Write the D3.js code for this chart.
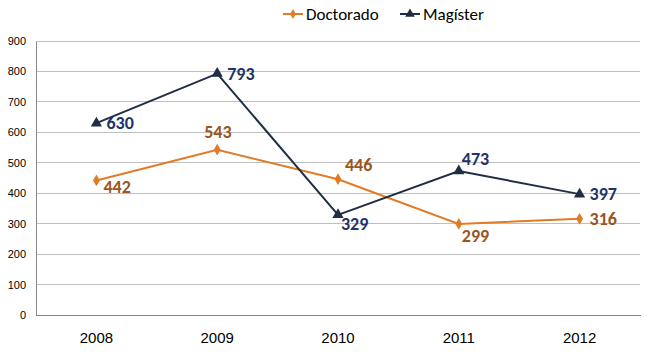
<!DOCTYPE html>
<html><head><meta charset="utf-8">
<script src="https://cdn.jsdelivr.net/npm/d3@7"></script>
<style>body{margin:0;background:#fff;}svg{display:block;font-family:Carlito,"Liberation Sans",Arial,sans-serif;}</style>
</head><body><svg id="c" width="650" height="354"></svg>
<script>
const years = ["2008","2009","2010","2011","2012"];
const doctorado = [442, 543, 446, 299, 316];
const magister = [630, 793, 329, 473, 397];
const yTicks = [0,100,200,300,400,500,600,700,800,900];
// label placement: [dx, dy] relative to point
const docLabelPos = [[7,13],[-13,-12],[7,-8],[3,18],[10,6]];
const magLabelPos = [[10,6],[10,6],[3,15],[3,-6],[10,6]];

const svg = d3.select("#c");
const m = {l:36, r:10, t:41, b:39};
const W = 650, H = 354;
const x = d3.scaleBand().domain(years).range([m.l, W - m.r]);
const y = d3.scaleLinear().domain([0,900]).range([H - m.b, m.t]);
const cx = d => x(d) + x.bandwidth()/2;

// gridlines
svg.append("g").selectAll("line").data(yTicks.slice(1)).join("line")
  .attr("x1", m.l).attr("x2", W - m.r)
  .attr("y1", d => y(d)).attr("y2", d => y(d))
  .attr("stroke", "#bfbfbf").attr("stroke-width", 1).attr("shape-rendering","crispEdges");

// y axis
const ya = svg.append("g").attr("transform", `translate(${m.l},0)`)
  .call(d3.axisLeft(y).tickValues(yTicks).tickSize(0).tickPadding(10));
ya.select(".domain").attr("stroke","#868686").attr("shape-rendering","crispEdges");
ya.selectAll("text").attr("font-size", 11).attr("fill","#000").attr("font-family","'Liberation Sans',Arial,sans-serif");

// x axis
const xa = svg.append("g").attr("transform", `translate(0,${H - m.b})`)
  .call(d3.axisBottom(x).tickSize(0).tickPadding(17));
xa.select(".domain").attr("stroke","#868686").attr("shape-rendering","crispEdges");
xa.selectAll("text").attr("font-size", 15).attr("fill","#000");

const docColor = "#E07B27", magColor = "#1F2D45";
const docLabel = "#9A5520", magLabel = "#1F3468";

function series(vals, color, marker, labelColor, pos) {
  const line = d3.line().x((d,i) => cx(years[i])).y(d => y(d));
  svg.append("path").datum(vals).attr("d", line).attr("fill","none")
    .attr("stroke", color).attr("stroke-width", 2);
  svg.append("g").selectAll("path").data(vals).join("path")
    .attr("d", d3.symbol().type(marker).size(marker === d3.symbolDiamond ? 40 : 55))
    .attr("transform", (d,i) => `translate(${cx(years[i])},${y(d)})`)
    .attr("fill", color);
  svg.append("g").selectAll("text").data(vals).join("text")
    .attr("x", (d,i) => cx(years[i]) + pos[i][0])
    .attr("y", (d,i) => y(d) + pos[i][1])
    .attr("font-size", 18).attr("font-weight","bold").attr("fill", labelColor)
    .text(d => d);
}
series(doctorado, docColor, d3.symbolDiamond, docLabel, docLabelPos);
series(magister, magColor, d3.symbolTriangle, magLabel, magLabelPos);

// legend
const legend = [{name:"Doctorado", color:docColor, sym:d3.symbolDiamond, x:283},
                {name:"Magíster", color:magColor, sym:d3.symbolTriangle, x:400}];
const lg = svg.append("g").selectAll("g").data(legend).join("g")
  .attr("transform", d => `translate(${d.x},14)`);
lg.append("line").attr("x1",0).attr("x2",20).attr("stroke", d=>d.color).attr("stroke-width",2);
lg.append("path").attr("d", d => d3.symbol().type(d.sym).size(d.sym===d3.symbolDiamond?30:40)()).attr("transform","translate(10,0)").attr("fill", d=>d.color);
lg.append("text").attr("x",23).attr("y",6).attr("font-size",17).attr("fill","#000").text(d=>d.name);
</script></body></html>
